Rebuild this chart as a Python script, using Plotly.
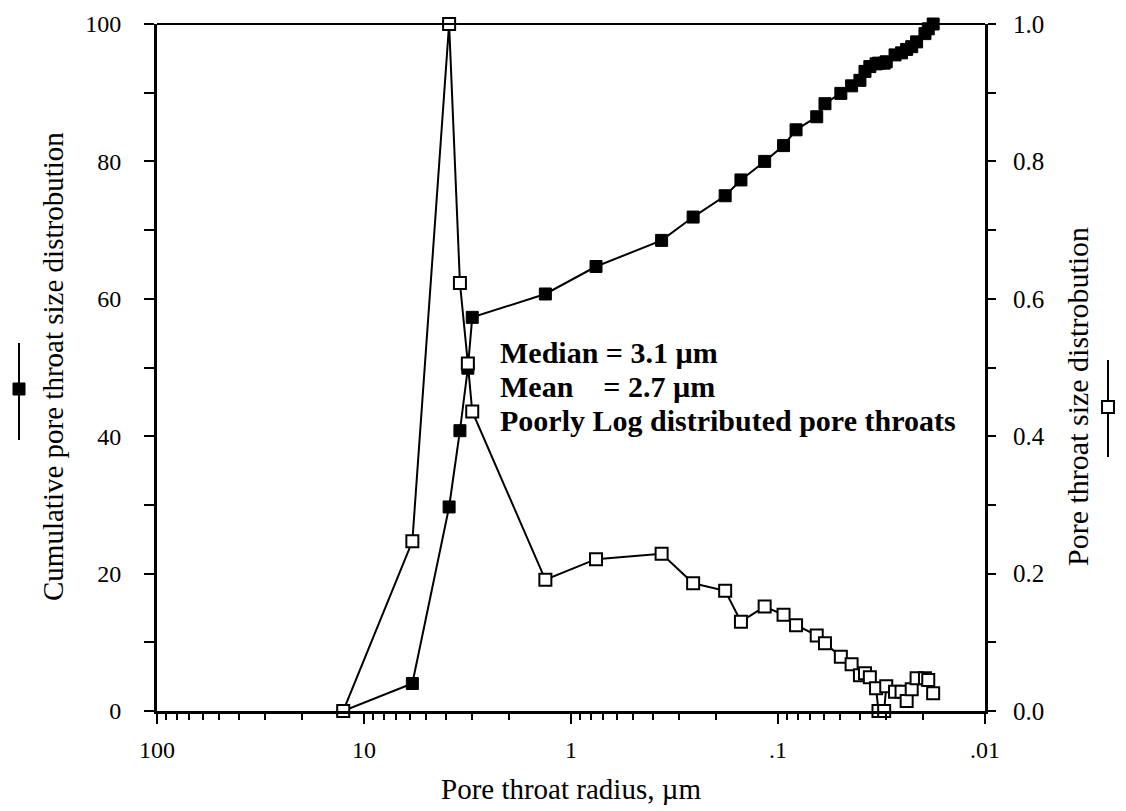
import plotly.graph_objects as go

# Pore throat radius (µm)
radius = [12.6, 5.84, 3.88, 3.44, 3.15, 3.0, 1.33, 0.757, 0.365, 0.257, 0.180, 0.151,
          0.116, 0.094, 0.0818, 0.065, 0.0593, 0.0497, 0.0441, 0.0402, 0.038, 0.036,
          0.0336, 0.0327, 0.0307, 0.030, 0.0272, 0.0253, 0.0239, 0.0226, 0.0214,
          0.0195, 0.0188, 0.0178]
# Cumulative pore throat size distribution (left axis)
cumulative = [0, 4.0, 29.7, 40.8, 49.9, 57.3, 60.7, 64.7, 68.5, 71.9, 75.0, 77.3,
              80.0, 82.3, 84.6, 86.5, 88.4, 89.9, 91.0, 91.8, 93.1, 93.8,
              94.2, 94.3, 94.3, 94.5, 95.5, 95.8, 96.3, 96.7, 97.4,
              98.6, 99.3, 100]
# Pore throat size distribution (right axis)
distribution = [0, 0.247, 1.0, 0.623, 0.506, 0.436, 0.191, 0.221, 0.229, 0.186, 0.175, 0.130,
                0.152, 0.140, 0.125, 0.110, 0.0985, 0.079, 0.068, 0.052, 0.055, 0.049,
                0.033, 0.0, 0.0, 0.036, 0.028, 0.028, 0.0146, 0.0315, 0.0475,
                0.0475, 0.045, 0.0257]

x_tickvals = [100, 10, 1, 0.1, 0.01]
x_ticktext = ["100", "10", "1", ".1", ".01"]
x_minor = [m * 10 ** e for e in [-2, -1, 0, 1] for m in range(2, 10)]

info_lines = ["Median = 3.1 µm",
              "Mean\u00a0\u00a0\u00a0\u00a0= 2.7 µm",
              "Poorly Log distributed pore throats"]

FONT = "Liberation Serif, Times New Roman, serif"

fig = go.Figure()
fig.add_trace(go.Scatter(
    x=radius, y=cumulative, mode="lines+markers", cliponaxis=False,
    line=dict(color="black", width=2),
    marker=dict(symbol="square", size=12, color="black", line=dict(color="black", width=1)),
    showlegend=False))
fig.add_trace(go.Scatter(
    x=radius, y=distribution, mode="lines+markers", yaxis="y2", cliponaxis=False,
    line=dict(color="black", width=2),
    marker=dict(symbol="square", size=12, color="white", line=dict(color="black", width=2)),
    showlegend=False))

fig.update_layout(
    width=1126, height=811,
    margin=dict(l=157, r=141, t=24, b=100),
    paper_bgcolor="white", plot_bgcolor="white",
    font=dict(family=FONT, color="black", size=22),
    xaxis=dict(type="log", range=[2, -2], showgrid=False, zeroline=False,
               showline=True, linewidth=3, linecolor="black",
               ticks="outside", ticklen=10, tickwidth=2, tickcolor="black",
               tickvals=x_tickvals, ticktext=x_ticktext, ticklabelstandoff=5,
               tickfont=dict(size=24, family=FONT),
               minor=dict(tickvals=x_minor, ticks="outside", ticklen=6, tickwidth=2,
                          tickcolor="black", showgrid=False)),
    yaxis=dict(range=[0, 100], showgrid=False, zeroline=False,
               showline=True, linewidth=3, linecolor="black",
               ticks="outside", ticklen=10, tickwidth=2, tickcolor="black",
               tickvals=[0, 20, 40, 60, 80, 100], ticklabelstandoff=18,
               tickfont=dict(size=24, family=FONT),
               minor=dict(tickvals=[10, 30, 50, 70, 90], ticks="outside", ticklen=10,
                          tickwidth=2, tickcolor="black", showgrid=False)),
    yaxis2=dict(range=[0, 1], overlaying="y", side="right", showgrid=False, zeroline=False,
                showline=True, linewidth=3, linecolor="black",
                ticks="outside", ticklen=8, tickwidth=2, tickcolor="black",
                tickvals=[0, 0.2, 0.4, 0.6, 0.8, 1.0], ticklabelstandoff=12,
                ticktext=["0.0", "0.2", "0.4", "0.6", "0.8", "1.0"],
                tickfont=dict(size=25, family=FONT),
                minor=dict(tickvals=[0.1, 0.3, 0.5, 0.7, 0.9], ticks="outside", ticklen=8,
                           tickwidth=2, tickcolor="black", showgrid=False)),
)

# top frame line
fig.add_shape(type="line", xref="paper", yref="paper", x0=0, x1=1, y0=1, y1=1,
              line=dict(color="black", width=2))

def px_to_paper(px, py):
    return (px - 157) / 828, (711 - py) / 687

# axis titles
bx, by = px_to_paper(571, 789)
fig.add_annotation(text="Pore throat radius, µm", xref="paper", yref="paper",
                   x=bx, y=by, xanchor="center", yanchor="middle",
                   showarrow=False, font=dict(size=29, family=FONT))
lx_t, ly_t = px_to_paper(53, 367)
fig.add_annotation(text="Cumulative pore throat size distrobution", xref="paper", yref="paper",
                   x=lx_t, y=ly_t, xanchor="center", yanchor="middle", textangle=-90,
                   showarrow=False, font=dict(size=29, family=FONT))
rx_t, ry_t = px_to_paper(1077, 397)
fig.add_annotation(text="Pore throat size distrobution", xref="paper", yref="paper",
                   x=rx_t, y=ry_t, xanchor="center", yanchor="middle", textangle=-90,
                   showarrow=False, font=dict(size=30, family=FONT))

# text block, one annotation per line
for line_text, ypx in zip(info_lines, [352, 386, 420]):
    tx, ty = px_to_paper(498, ypx)
    fig.add_annotation(
        text="<b>" + line_text + "</b>",
        xref="paper", yref="paper", x=tx, y=ty,
        xanchor="left", yanchor="middle", align="left", showarrow=False,
        font=dict(size=30, family=FONT))

# legend glyphs beside axis titles
lx, ly0 = px_to_paper(19, 343)
_, ly1 = px_to_paper(19, 440)
fig.add_shape(type="line", xref="paper", yref="paper", x0=lx, x1=lx, y0=ly0, y1=ly1,
              line=dict(color="black", width=2))
sx0, sy0 = px_to_paper(13, 383)
sx1, sy1 = px_to_paper(25, 395)
fig.add_shape(type="rect", xref="paper", yref="paper", x0=sx0, x1=sx1, y0=sy0, y1=sy1,
              line=dict(color="black", width=1), fillcolor="black")

rx, ry0 = px_to_paper(1108, 360)
_, ry1 = px_to_paper(1108, 457)
fig.add_shape(type="line", xref="paper", yref="paper", x0=rx, x1=rx, y0=ry0, y1=ry1,
              line=dict(color="black", width=2))
qx0, qy0 = px_to_paper(1102, 401)
qx1, qy1 = px_to_paper(1114, 413)
fig.add_shape(type="rect", xref="paper", yref="paper", x0=qx0, x1=qx1, y0=qy0, y1=qy1,
              line=dict(color="black", width=2), fillcolor="white")

fig.write_html("out.html")
